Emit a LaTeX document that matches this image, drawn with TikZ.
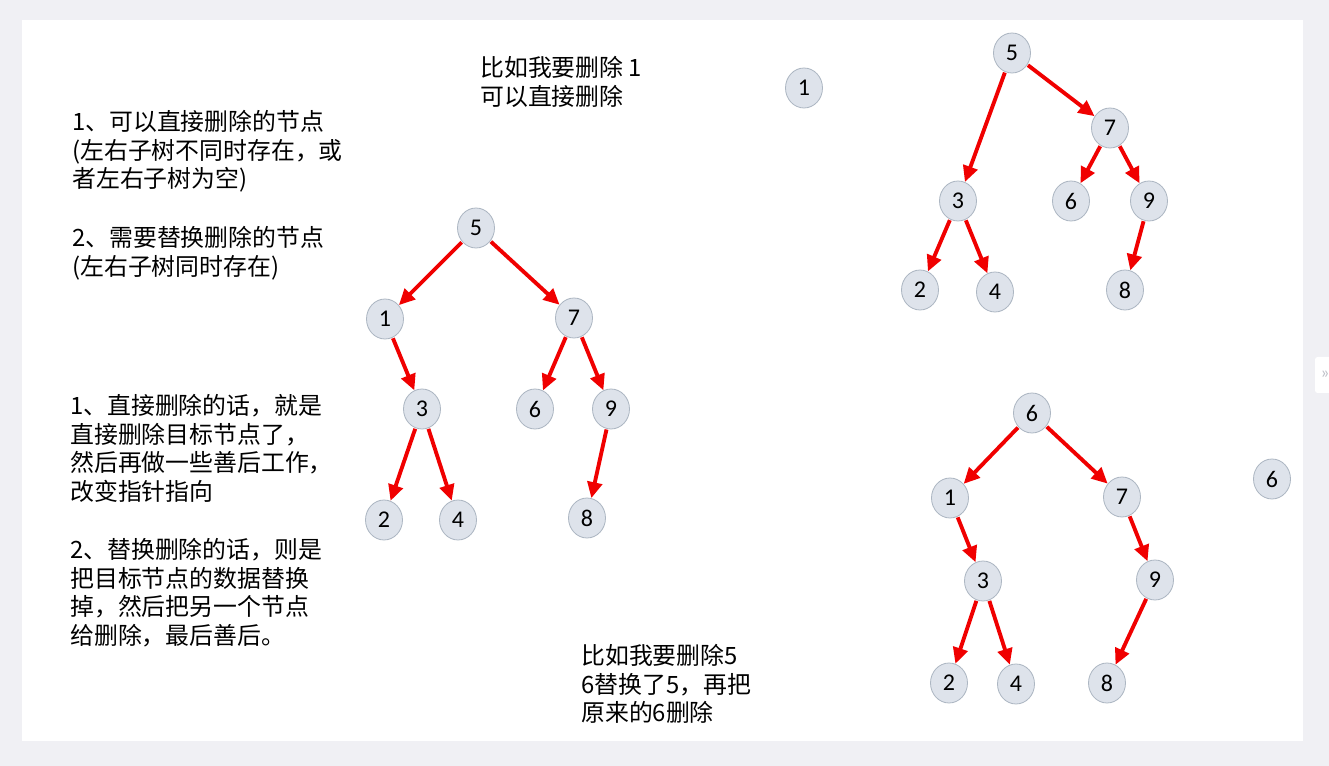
\documentclass[tikz,border=0pt]{standalone}
\usepackage{fontspec}
\setmainfont{Carlito}
\newfontfamily\cjk{Noto Sans CJK SC}
\usepackage{xcolor}
\definecolor{pagegrey}{RGB}{240,240,244}
\definecolor{nodefill}{RGB}{222,227,235}
\definecolor{nodeline}{RGB}{172,182,194}
\definecolor{arrowred}{RGB}{240,0,0}
\definecolor{tabgrey}{RGB}{190,192,200}
\usetikzlibrary{arrows.meta, shapes.geometric, positioning}

\begin{document}
\begin{tikzpicture}[
            x=0.75pt, y=-0.75pt,
            greynode/.style={shape=ellipse, fill=nodefill, draw=nodeline, line width=0.6pt, minimum width=27.75pt, minimum height=30pt, inner sep=0pt, font=\fontsize{18}{18}\selectfont},
            redarrow/.style={draw=arrowred, line width=2.9pt, -{Triangle[length=12pt, width=11pt]}, shorten <=0.5pt},
            notetext/.style={anchor=north west, align=left, inner sep=0pt, font=\cjk\fontsize{17.9}{21.4}\selectfont}
            ]

            % Page
            \useasboundingbox[fill=pagegrey] (0,0) rectangle (1329,766);
            \fill[white] (22,20) rectangle (1303,741);
            \fill[white, rounded corners=2pt] (1315,357) rectangle (1340,393);
            \node[text=tabgrey, font=\fontsize{13}{13}\selectfont] (tab) at (1325,375) {»};

            % Notes on the left
            \node[notetext] (noteone) at (72,110) {1、可以直接删除的节点\\(左右子树不同时存在，或\\者左右子树为空)};
            \node[notetext] (notetwo) at (72,226) {2、需要替换删除的节点\\(左右子树同时存在)};
            \node[notetext] (notethree) at (70,394) {1、直接删除的话，就是\\直接删除目标节点了，\\然后再做一些善后工作，\\改变指针指向};
            \node[notetext] (notefour) at (70,538) {2、替换删除的话，则是\\把目标节点的数据替换\\掉，然后把另一个节点\\给删除，最后善后。};

            % Examples
            \node[notetext] (delone) at (480,56) {比如我要删除 1\\可以直接删除};
            \node[notetext] (delfive) at (581,644) {比如我要删除5\\6替换了5，再把\\原来的6删除};

            % Middle tree
            \foreach \name/\x/\y/\num in {
                m5/476/228/5, m1/385/319/1, m7/574/318/7, m3/422/409/3,
                m6/535/409/6, m9/611/409/9, m2/384/520/2, m4/458/520/4, m8/587/518/8
            } {
                \node[greynode] (\name) at (\x,\y) {\num};
            }
            \foreach \from/\to in {m5/m1, m5/m7, m1/m3, m7/m6, m7/m9, m3/m2, m3/m4, m9/m8} {
                \draw[redarrow] (\from) -- (\to);
            }

            % Tree after deleting 1
            \foreach \name/\x/\y/\num in {
                a5/1012/53/5, a7/1110/128/7, a3/958/201/3, a6/1071/201/6,
                a9/1149/201/9, a2/920/290/2, a4/995/292/4, a8/1125/290/8
            } {
                \node[greynode] (\name) at (\x,\y) {\num};
            }
            \foreach \from/\to in {a5/a3, a5/a7, a7/a6, a7/a9, a3/a2, a3/a4, a9/a8} {
                \draw[redarrow] (\from) -- (\to);
            }
            \node[greynode] (gone) at (804,88) {1};

            % Tree after deleting 5
            \foreach \name/\x/\y/\num in {
                b6/1032/413/6, b1/950/498/1, b7/1122/497/7, b3/983/581/3,
                b9/1155/580/9, b2/949/683/2, b4/1016/684/4, b8/1107/683/8
            } {
                \node[greynode] (\name) at (\x,\y) {\num};
            }
            \foreach \from/\to in {b6/b1, b6/b7, b1/b3, b7/b9, b3/b2, b3/b4, b9/b8} {
                \draw[redarrow] (\from) -- (\to);
            }
            \node[greynode] (gsix) at (1272,479) {6};
\end{tikzpicture}
\end{document}
